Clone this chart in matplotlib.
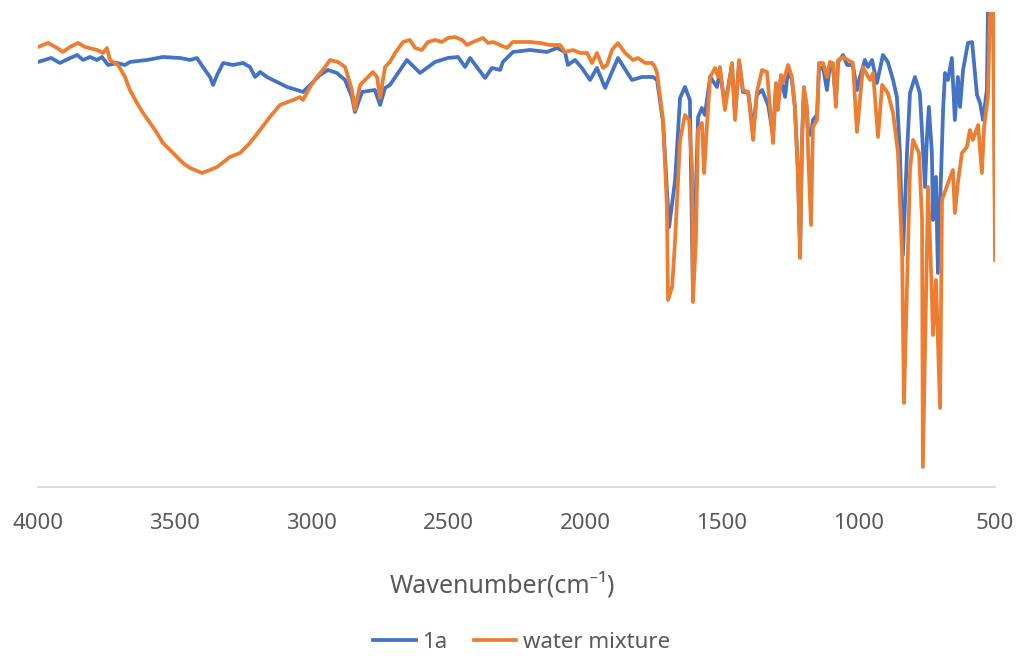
import matplotlib
matplotlib.use("Agg")
import matplotlib.pyplot as plt

plt.rcParams['font.family'] = ['Noto Sans', 'DejaVu Sans']

# wavenumber (cm-1) and signal (arbitrary units, y axis hidden)
wn_1a = [4000, 3952, 3920, 3890, 3857, 3835, 3810, 3784, 3766, 3744, 3711, 3682, 3664, 3601,
         3543, 3481, 3444, 3419, 3397, 3371, 3360, 3345, 3323, 3287, 3250, 3225, 3206, 3188,
         3163, 3126, 3089, 3053, 3031, 3005, 2969, 2940, 2907, 2877, 2852, 2841, 2815, 2768,
         2749, 2731, 2713, 2651, 2603, 2548, 2501, 2464, 2438, 2420, 2365, 2340, 2310, 2300,
         2263, 2201, 2139, 2102, 2073, 2062, 2036, 2011, 1981, 1956, 1926, 1879, 1828, 1791,
         1751, 1736, 1714, 1692, 1670, 1652, 1634, 1616, 1605, 1586, 1572, 1561, 1542, 1517,
         1506, 1488, 1462, 1451, 1436, 1422, 1403, 1385, 1371, 1352, 1330, 1312, 1301, 1294,
         1283, 1268, 1257, 1243, 1232, 1221, 1213, 1206, 1199, 1188, 1184, 1173, 1166, 1151,
         1144, 1129, 1115, 1104, 1093, 1082, 1074, 1056, 1041, 1020, 1005, 994, 976, 965,
         950, 932, 910, 892, 873, 859, 848, 837, 822, 811, 793, 775, 756, 749, 742, 731,
         727, 716, 709, 690, 683, 672, 658, 647, 636, 628, 617, 599, 584, 566, 555, 544,
         530, 526, 519, 504, 500]
t_1a = [425, 429, 424, 428, 432, 427, 430, 427, 430, 422, 424, 422, 425, 427,
        430, 429, 427, 429, 420, 410, 402, 412, 424, 422, 424, 420, 410, 415,
        410, 405, 400, 397, 395, 402, 412, 417, 414, 407, 390, 375, 395, 397,
        382, 399, 402, 427, 414, 425, 429, 430, 420, 429, 409, 419, 417, 425,
        435, 437, 435, 439, 435, 422, 427, 419, 407, 419, 399, 429, 407, 410,
        410, 407, 364, 260, 307, 389, 400, 387, 197, 370, 379, 372, 410, 400,
        415, 382, 422, 372, 425, 395, 395, 357, 392, 397, 382, 352, 402, 382,
        409, 390, 417, 407, 380, 317, 237, 347, 397, 377, 354, 352, 367, 372,
        417, 420, 397, 422, 420, 387, 425, 432, 422, 422, 397, 410, 427, 420,
        427, 404, 432, 425, 407, 390, 334, 232, 334, 394, 410, 394, 300, 350, 380, 334,
        267, 310, 214, 377, 414, 407, 429, 367, 410, 380, 417, 444, 445, 392, 384, 367,
        397, 474, 500, 500, 247]

wn_mix = [4000, 3963, 3930, 3909, 3883, 3854, 3828, 3784, 3762, 3748, 3737, 3707, 3682, 3664,
          3638, 3616, 3590, 3565, 3543, 3506, 3470, 3444, 3400, 3371, 3345, 3298, 3261, 3225,
          3188, 3152, 3115, 3067, 3042, 3031, 3005, 2980, 2950, 2932, 2903, 2877, 2852, 2841,
          2822, 2797, 2775, 2760, 2749, 2731, 2713, 2694, 2665, 2640, 2621, 2596, 2574, 2548,
          2523, 2501, 2475, 2449, 2431, 2409, 2373, 2354, 2336, 2310, 2285, 2263, 2230, 2201,
          2164, 2128, 2091, 2073, 2043, 2018, 1992, 1974, 1956, 1934, 1919, 1901, 1879, 1853,
          1824, 1806, 1780, 1754, 1744, 1736, 1725, 1714, 1700, 1696, 1681, 1670, 1652, 1634,
          1619, 1608, 1605, 1594, 1586, 1572, 1564, 1557, 1542, 1524, 1513, 1506, 1488, 1462,
          1451, 1436, 1422, 1403, 1385, 1371, 1352, 1334, 1323, 1312, 1301, 1294, 1283, 1276,
          1257, 1243, 1232, 1221, 1213, 1206, 1199, 1188, 1184, 1173, 1166, 1151, 1144, 1129,
          1115, 1104, 1093, 1082, 1074, 1056, 1038, 1020, 1005, 994, 983, 968, 957, 946,
          928, 913, 892, 873, 855, 840, 833, 822, 811, 800, 778, 767, 764, 745, 734,
          727, 716, 701, 694, 690, 672, 654, 647, 636, 621, 603, 592, 581, 562, 548,
          540, 526, 519, 508, 500]
t_mix = [440, 444, 439, 435, 440, 444, 440, 437, 434, 439, 427, 422, 410, 397,
         384, 374, 364, 354, 344, 334, 324, 319, 314, 317, 320, 330, 334, 344,
         357, 370, 382, 387, 390, 387, 400, 410, 420, 427, 425, 420, 397, 377,
         402, 409, 415, 410, 389, 420, 425, 434, 445, 447, 439, 437, 445, 447,
         445, 449, 450, 447, 442, 445, 449, 444, 445, 442, 439, 445, 445, 445,
         444, 442, 442, 435, 437, 434, 434, 424, 434, 419, 422, 437, 444, 434,
         427, 429, 424, 424, 420, 414, 390, 367, 280, 187, 200, 247, 347, 372,
         367, 320, 185, 247, 357, 364, 314, 347, 410, 419, 410, 420, 377, 424,
         367, 427, 397, 395, 347, 395, 417, 415, 380, 344, 404, 377, 412, 404,
         422, 410, 380, 314, 229, 347, 400, 380, 337, 262, 360, 367, 424, 424,
         410, 425, 424, 380, 427, 430, 427, 424, 355, 387, 420, 412, 407, 414,
         350, 402, 394, 374, 334, 234, 84, 200, 317, 347, 334, 267, 20, 300, 217,
         152, 207, 79, 287, 290, 304, 317, 274, 304, 334, 340, 357, 347, 362, 314,
         360, 390, 470, 500, 227]

fig = plt.figure(figsize=(10.19, 6.58), dpi=100)
ax = fig.add_axes([0.0373, 0.2599, 0.9392, 0.7219])

ax.plot(wn_1a, t_1a, color="#4472C4", lw=2.7, label="1a")
ax.plot(wn_mix, t_mix, color="#ED7D31", lw=2.7, label="water mixture")

ax.set_xlim(4000, 500)
ax.set_ylim(0, 475)
ax.set_xticks([4000, 3500, 3000, 2500, 2000, 1500, 1000, 500])
ax.set_yticks([])
for s in ["top", "right", "left"]:
    ax.spines[s].set_visible(False)
ax.spines["bottom"].set_color("#D9D9D9")
ax.spines["bottom"].set_linewidth(1.3)
ax.tick_params(axis="x", length=0, pad=19, labelsize=16, labelcolor="#595959")

fig.text(0.493, 0.111, "Wavenumber(cm⁻¹)", ha="center", va="center",
         fontsize=18, color="#595959")

fig.legend(loc="center", bbox_to_anchor=(0.512, 0.024), ncol=2, frameon=False,
           fontsize=16, labelcolor="#595959", handlelength=1.9, handletextpad=0.3,
           columnspacing=1.2)

fig.savefig("out.png", dpi=100)
